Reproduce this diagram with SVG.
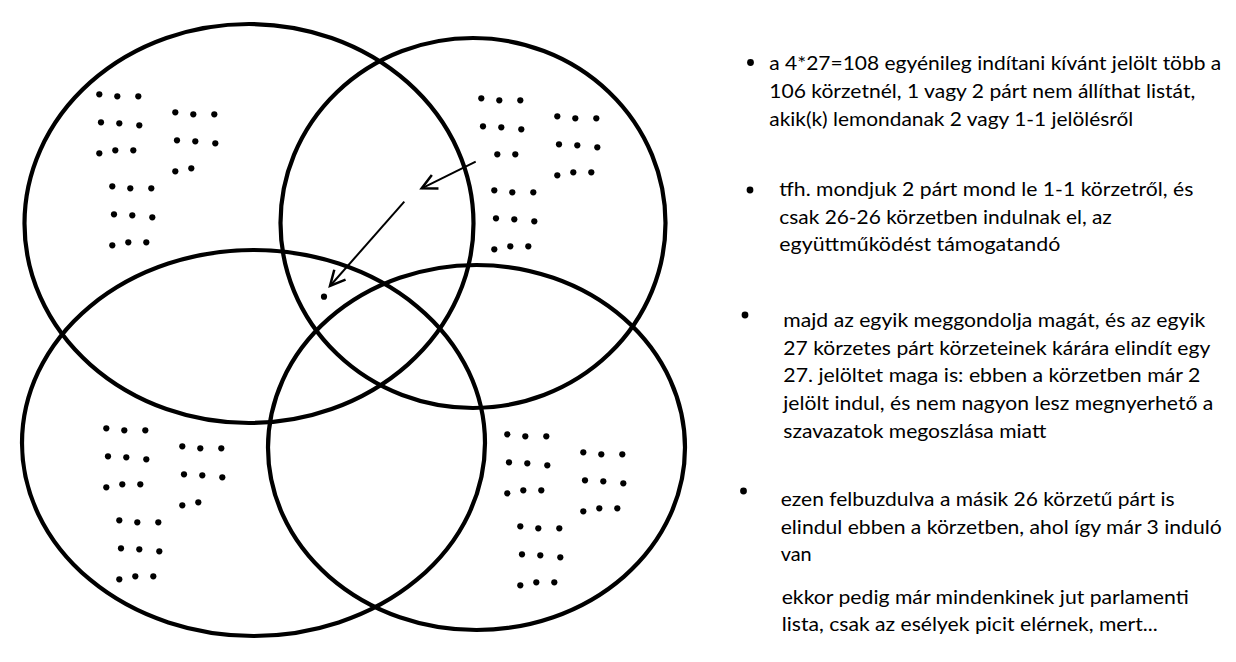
<svg xmlns="http://www.w3.org/2000/svg" xmlns:xlink="http://www.w3.org/1999/xlink" width="1236" height="662" viewBox="0 0 1236 662">
<style>
.ell{fill:none;stroke:#000;stroke-width:4.2}
.arr{fill:none;stroke:#000;stroke-width:2}
.dot{fill:#000}
.t{font-family:Lato,"Liberation Sans",sans-serif;font-size:19.3px;fill:#000}
</style>
<defs>
<marker id="ah" markerUnits="userSpaceOnUse" markerWidth="20" markerHeight="20" viewBox="-14 -8 16 16" refX="0" refY="0" orient="auto">
<path d="M-12,-6 L0,0 L-12,6" fill="none" stroke="#000" stroke-width="2"/>
</marker>
<g id="row3a"><circle cx="0" cy="59" r="3.1"/><circle cx="16" cy="56" r="3.1"/><circle cx="34" cy="56" r="3.1"/></g>
<g id="top6"><circle cx="0" cy="0" r="3.1"/><circle cx="18" cy="2" r="3.1"/><circle cx="39" cy="2" r="3.1"/><circle cx="1.7" cy="28" r="3.1"/><circle cx="20" cy="29" r="3.1"/><circle cx="40" cy="31" r="3.1"/></g>
<g id="b9"><use xlink:href="#top6"/><use xlink:href="#row3a"/></g>
<g id="b8"><use xlink:href="#top6"/><circle cx="0" cy="59" r="3.1"/><circle cx="16" cy="56" r="3.1"/></g>
<g id="b8a"><use xlink:href="#top6"/><circle cx="16" cy="56" r="3.1"/><circle cx="34" cy="56" r="3.1"/></g>
</defs>
<rect width="1236" height="662" fill="#fff"/>

<g id="ellipse-top-left"><ellipse class="ell" cx="249" cy="223.5" rx="224.5" ry="199.5"/></g>
<g id="ellipse-top-right"><ellipse class="ell" cx="473" cy="223" rx="192.5" ry="185"/></g>
<g id="ellipse-bottom-left"><ellipse class="ell" cx="253.5" cy="443" rx="231.5" ry="193"/></g>
<g id="ellipse-bottom-right"><ellipse class="ell" cx="476.5" cy="447.5" rx="208.5" ry="182.5"/></g>

<g id="dots-top-left" class="dot">
<use xlink:href="#b9" transform="translate(99.3,94.3)"/>
<use xlink:href="#b8" transform="translate(175.3,112.3)"/>
<use xlink:href="#b9" transform="translate(112.3,186.3)"/>
</g>
<g id="dots-top-right" class="dot">
<use xlink:href="#b8a" transform="translate(481.3,98.3)"/>
<use xlink:href="#b9" transform="translate(557.3,116.3)"/>
<use xlink:href="#b9" transform="translate(494.3,190.3)"/>
</g>
<g id="dots-bottom-left" class="dot">
<use xlink:href="#b9" transform="translate(106.3,428.3)"/>
<use xlink:href="#b8" transform="translate(182.3,446.3)"/>
<use xlink:href="#b9" transform="translate(119.3,520.3)"/>
</g>
<g id="dots-bottom-right" class="dot">
<use xlink:href="#b9" transform="translate(507.3,434.3)"/>
<use xlink:href="#b9" transform="translate(583.3,452.3)"/>
<use xlink:href="#b9" transform="translate(520.3,526.3)"/>
</g>
<g id="moved-dot" class="dot"><circle cx="324" cy="296.7" r="3.1"/></g>

<g id="connectors">
<line class="arr" x1="475.7" y1="161.7" x2="421.7" y2="188.3" marker-end="url(#ah)"/>
<line class="arr" x1="404.3" y1="201.7" x2="330" y2="286" marker-end="url(#ah)"/>
</g>

<g id="text-1">
<circle cx="750.5" cy="62.5" r="3.4"/>
<text class="t" x="769.3" y="69.5" textLength="452" lengthAdjust="spacingAndGlyphs">a 4*27=108 egyénileg indítani kívánt jelölt több a</text>
<text class="t" x="769.3" y="98" textLength="426" lengthAdjust="spacingAndGlyphs">106 körzetnél, 1 vagy 2 párt nem állíthat listát,</text>
<text class="t" x="769.3" y="126" textLength="364" lengthAdjust="spacingAndGlyphs">akik(k) lemondanak 2 vagy 1-1 jelölésről</text>
</g>
<g id="text-2">
<circle cx="750" cy="190" r="3.4"/>
<text class="t" x="779.3" y="196" textLength="414" lengthAdjust="spacingAndGlyphs">tfh. mondjuk 2 párt mond le 1-1 körzetről, és</text>
<text class="t" x="779.3" y="223.5" textLength="332.5" lengthAdjust="spacingAndGlyphs">csak 26-26 körzetben indulnak el, az</text>
<text class="t" x="779.3" y="251" textLength="281" lengthAdjust="spacingAndGlyphs">együttműködést támogatandó</text>
</g>
<g id="text-3">
<circle cx="745" cy="315" r="3.4"/>
<text class="t" x="783.3" y="327" textLength="422" lengthAdjust="spacingAndGlyphs">majd az egyik meggondolja magát, és az egyik</text>
<text class="t" x="783.3" y="354.5" textLength="427" lengthAdjust="spacingAndGlyphs">27 körzetes párt körzeteinek kárára elindít egy</text>
<text class="t" x="783.3" y="382" textLength="417" lengthAdjust="spacingAndGlyphs">27. jelöltet maga is: ebben a körzetben már 2</text>
<text class="t" x="783.3" y="410" textLength="430" lengthAdjust="spacingAndGlyphs">jelölt indul, és nem nagyon lesz megnyerhető a</text>
<text class="t" x="783.3" y="437.5" textLength="263" lengthAdjust="spacingAndGlyphs">szavazatok megoszlása miatt</text>
</g>
<g id="text-4">
<circle cx="743.5" cy="491" r="3.4"/>
<text class="t" x="780.7" y="506" textLength="394" lengthAdjust="spacingAndGlyphs">ezen felbuzdulva a másik 26 körzetű párt is</text>
<text class="t" x="780.7" y="533.5" textLength="441" lengthAdjust="spacingAndGlyphs">elindul ebben a körzetben, ahol így már 3 induló</text>
<text class="t" x="780.7" y="561" textLength="31" lengthAdjust="spacingAndGlyphs">van</text>
<text class="t" x="781.7" y="603.5" textLength="407" lengthAdjust="spacingAndGlyphs">ekkor pedig már mindenkinek jut parlamenti</text>
<text class="t" x="781.7" y="631" textLength="376" lengthAdjust="spacingAndGlyphs">lista, csak az esélyek picit elérnek, mert...</text>
</g>
</svg>
